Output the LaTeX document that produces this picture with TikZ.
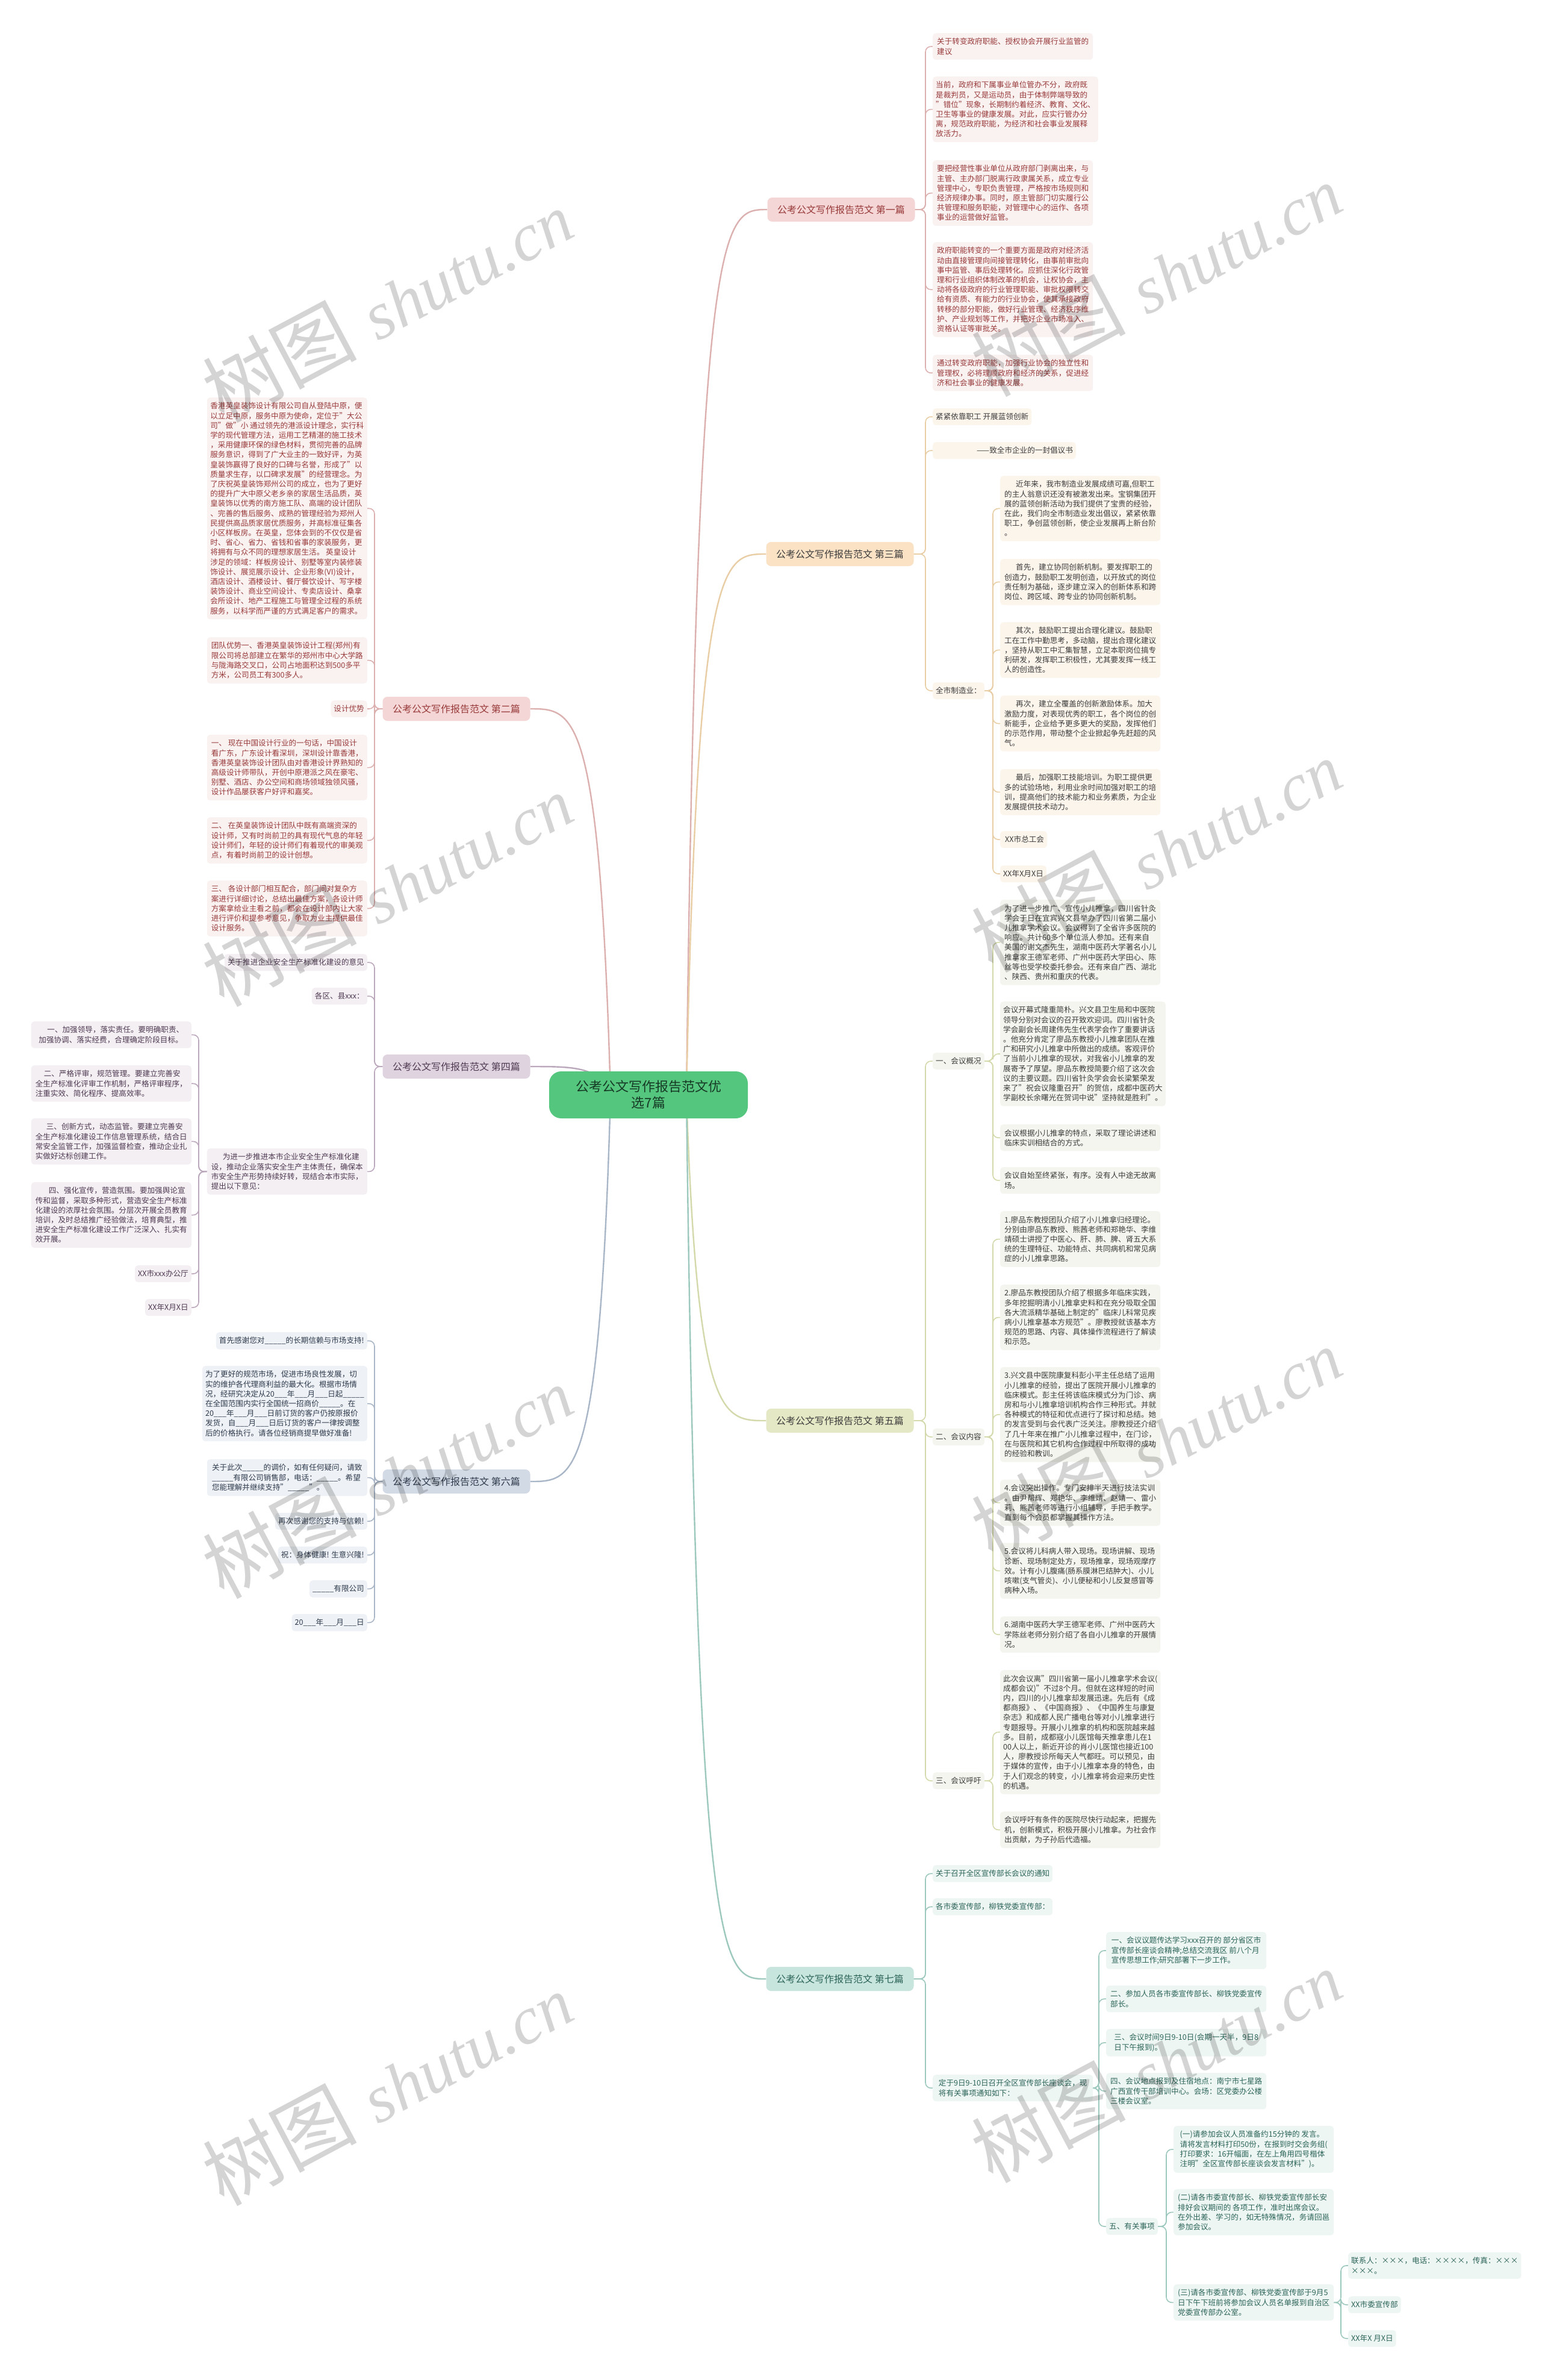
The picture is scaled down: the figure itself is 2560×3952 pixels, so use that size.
\documentclass[tikz,border=0pt]{standalone}
\usepackage{fontspec}
\setmainfont{Noto Sans CJK SC}
\newfontfamily\wmserif{Liberation Serif}
\usetikzlibrary{backgrounds,calc}
\definecolor{cgreen}{HTML}{55C67E}
\definecolor{ctxt}{HTML}{163A25}
\definecolor{pkf}{HTML}{F5D6D6}\definecolor{pkb}{HTML}{FAF1F1}\definecolor{pkt}{HTML}{983A3A}\definecolor{pkl}{HTML}{DDB0B0}
\definecolor{orf}{HTML}{FBE2C5}\definecolor{orb}{HTML}{FCF5EC}\definecolor{ort}{HTML}{3C3C3C}\definecolor{orl}{HTML}{E9CDA5}
\definecolor{olf}{HTML}{E5E8C5}\definecolor{olb}{HTML}{F4F5EE}\definecolor{olt}{HTML}{3C3C3C}\definecolor{oll}{HTML}{D3D9AA}
\definecolor{tlf}{HTML}{C7E5DD}\definecolor{tlb}{HTML}{EDF6F3}\definecolor{tlt}{HTML}{2C6458}\definecolor{tll}{HTML}{9CC8BD}
\definecolor{puf}{HTML}{E0D3E0}\definecolor{pub}{HTML}{F3EFF3}\definecolor{put}{HTML}{4F3A52}\definecolor{pul}{HTML}{BBA8BC}
\definecolor{blf}{HTML}{D2DAE5}\definecolor{blb}{HTML}{EEF1F5}\definecolor{blt}{HTML}{2F3B4D}\definecolor{bll}{HTML}{A9B6C7}
\newcommand\bt{\fontsize{12.6}{16.2}\selectfont}
\newcommand\myblank{\_\_\_\_\_}
\newcommand\myb{\_\_\_}
\newcommand\linkR[3]{\foreach \c in {#3}{\draw[#1] (#2.east) -| ($(\c.west)+(-12,0)$) -- (\c.west);}}
\newcommand\linkL[3]{\foreach \c in {#3}{\draw[#1] (#2.west) -| ($(\c.east)+(12,0)$) -- (\c.east);}}
\tikzset{
  bx/.style={rounded corners=5pt, inner xsep=5pt, inner ysep=8pt, font=\bt, align=left},
  wbx/.style={bx, minimum width=266pt},
  R/.style={anchor=north west},
  L/.style={anchor=north east},
  pk/.style={fill=pkb, text=pkt}, orr/.style={fill=orb, text=ort}, ol/.style={fill=olb, text=olt},
  tl/.style={fill=tlb, text=tlt}, pu/.style={fill=pub, text=put}, bl/.style={fill=blb, text=blt},
  br/.style={rounded corners=8pt, minimum width=245pt, minimum height=40pt, inner sep=0pt, font=\fontsize{16}{19}\selectfont},
  sub/.style={line width=1.6pt, rounded corners=9pt},
  wm/.style={text=black, text opacity=0.17, rotate=28, inner sep=0pt}
}
\begin{document}
\begin{tikzpicture}[x=1pt, y=-1pt]
\useasboundingbox (0,0) rectangle (2560,3952);
\begin{scope}[on background layer]
\fill[white] (0,0) rectangle (2560,3952);
\end{scope}

% center
\node[rounded corners=20pt, minimum width=330pt, minimum height=78pt, fill=cgreen, text=ctxt, font=\fontsize{22}{27}\selectfont, align=center] (root) at (1077,1818) {公考公文写作报告范文优\\选7篇};

% branches
\node[br, fill=pkf, text=pkt] (s1) at (1397,348) {公考公文写作报告范文 第一篇};
\node[br, fill=orf, text=ort] (s3) at (1395,920) {公考公文写作报告范文 第三篇};
\node[br, fill=olf, text=olt] (s5) at (1395,2359) {公考公文写作报告范文 第五篇};
\node[br, fill=tlf, text=tlt] (s7) at (1395,3286) {公考公文写作报告范文 第七篇};
\node[br, fill=pkf, text=pkt] (s2) at (758,1177) {公考公文写作报告范文 第二篇};
\node[br, fill=puf, text=put] (s4) at (758,1771) {公考公文写作报告范文 第四篇};
\node[br, fill=blf, text=blt] (s6) at (758,2460) {公考公文写作报告范文 第六篇};

% ---------- 第一篇
\node[wbx, pk, R] (b1) at (1549,55) {关于转变政府职能、授权协会开展行业监管的\\建议};
\node[wbx, pk, R] (b2) at (1549,127) {当前，政府和下属事业单位管办不分，政府既\\是裁判员，又是运动员，由于体制弊端导致的\\"错位"现象，长期制约着经济、教育、文化、\\卫生等事业的健康发展。对此，应实行管办分\\离，规范政府职能，为经济和社会事业发展释\\放活力。};
\node[wbx, pk, R] (b3) at (1549,266) {要把经营性事业单位从政府部门剥离出来，与\\主管、主办部门脱离行政隶属关系，成立专业\\管理中心，专职负责管理，严格按市场规则和\\经济规律办事。同时，原主管部门切实履行公\\共管理和服务职能，对管理中心的运作、各项\\事业的运营做好监管。};
\node[wbx, pk, R] (b4) at (1549,402) {政府职能转变的一个重要方面是政府对经济活\\动由直接管理向间接管理转化，由事前审批向\\事中监管、事后处理转化。应抓住深化行政管\\理和行业组织体制改革的机会，让权协会，主\\动将各级政府的行业管理职能、审批权限转交\\给有资质、有能力的行业协会，使其承接政府\\转移的部分职能，做好行业管理、经济秩序维\\护、产业规划等工作，并把好企业市场准入、\\资格认证等审批关。};
\node[wbx, pk, R] (b5) at (1549,589) {通过转变政府职能，加强行业协会的独立性和\\管理权，必将理顺政府和经济的关系，促进经\\济和社会事业的健康发展。};

% ---------- 第三篇
\node[bx, orr, R] (ca) at (1549,678) {紧紧依靠职工 开展蓝领创新};
\node[bx, orr, R] (cb) at (1549,734) {\hspace*{68pt}——致全市企业的一封倡议书};
\node[bx, orr, R] (cc) at (1549,1133) {全市制造业：};
\node[wbx, orr, R] (c1) at (1661,790) {\hspace*{19pt}近年来，我市制造业发展成绩可嘉,但职工\\的主人翁意识还没有被激发出来。宝钢集团开\\展的蓝领创新活动为我们提供了宝贵的经验，\\在此，我们向全市制造业发出倡议，紧紧依靠\\职工，争创蓝领创新，使企业发展再上新台阶\\。};
\node[wbx, orr, R] (c2) at (1661,928) {\hspace*{19pt}首先，建立协同创新机制。要发挥职工的\\创造力，鼓励职工发明创造，以开放式的岗位\\责任制为基础，逐步建立深入的创新体系和跨\\岗位、跨区域、跨专业的协同创新机制。};
\node[wbx, orr, R] (c3) at (1661,1033) {\hspace*{19pt}其次，鼓励职工提出合理化建议。鼓励职\\工在工作中勤思考，多动脑，提出合理化建议\\，坚持从职工中汇集智慧，立足本职岗位搞专\\利研发，发挥职工积极性，尤其要发挥一线工\\人的创造性。};
\node[wbx, orr, R] (c4) at (1661,1155) {\hspace*{19pt}再次，建立全覆盖的创新激励体系。加大\\激励力度，对表现优秀的职工，各个岗位的创\\新能手，企业给予更多更大的奖励，发挥他们\\的示范作用，带动整个企业掀起争先赶超的风\\气。};
\node[wbx, orr, R] (c5) at (1661,1277) {\hspace*{19pt}最后，加强职工技能培训。为职工提供更\\多的试验场地，利用业余时间加强对职工的培\\训，提高他们的技术能力和业务素质，为企业\\发展提供技术动力。};
\node[bx, orr, R] (c6) at (1661,1380) {\hspace*{3pt}XX市总工会};
\node[bx, orr, R] (c7) at (1661,1437) {XX年X月X日};

% ---------- 第五篇
\node[bx, ol, R] (p1) at (1549,1748) {一、会议概况};
\node[bx, ol, R] (p2) at (1549,2372) {二、会议内容};
\node[bx, ol, R] (p3) at (1549,2943) {三、会议呼吁};
\node[wbx, ol, R] (g1) at (1661,1494) {为了进一步推广、宣传小儿推拿，四川省针灸\\学会于日在宜宾兴文县举办了四川省第二届小\\儿推拿学术会议。会议得到了全省许多医院的\\响应。共计60多个单位派人参加。还有来自\\美国的谢文杰先生，湖南中医药大学著名小儿\\推拿家王德军老师、广州中医药大学田心、陈\\丝等也受学校委托参会。还有来自广西、湖北\\、陕西、贵州和重庆的代表。};
\node[wbx, ol, R] (g2) at (1661,1663) {会议开幕式隆重简朴。兴文县卫生局和中医院\\领导分别对会议的召开致欢迎词。四川省针灸\\学会副会长周建伟先生代表学会作了重要讲话\\。他充分肯定了廖品东教授小儿推拿团队在推\\广和研究小儿推拿中所做出的成绩。客观评价\\了当前小儿推拿的现状，对我省小儿推拿的发\\展寄予了厚望。廖品东教授简要介绍了这次会\\议的主要议题。四川省针灸学会会长梁繁荣发\\来了"祝会议隆重召开"的贺信，成都中医药大\\学副校长余曙光在贺词中说"坚持就是胜利"。};
\node[wbx, ol, R] (g3) at (1661,1867) {会议根据小儿推拿的特点，采取了理论讲述和\\临床实训相结合的方式。};
\node[wbx, ol, R] (g4) at (1661,1938) {会议自始至终紧张，有序。没有人中途无故离\\场。};
\node[wbx, ol, R] (h1) at (1661,2011) {1.廖品东教授团队介绍了小儿推拿归经理论。\\分别由廖品东教授、熊茜老师和郑艳华、李维\\靖硕士讲授了中医心、肝、肺、脾、肾五大系\\统的生理特征、功能特点、共同病机和常见病\\症的小儿推拿思路。};
\node[wbx, ol, R] (h2) at (1661,2133) {2.廖品东教授团队介绍了根据多年临床实践，\\多年挖掘明清小儿推拿史料和在充分吸取全国\\各大流派精华基础上制定的"临床儿科常见疾\\病小儿推拿基本方规范"。廖教授就该基本方\\规范的思路、内容、具体操作流程进行了解读\\和示范。};
\node[wbx, ol, R] (h3) at (1661,2270) {3.兴文县中医院康复科彭小平主任总结了运用\\小儿推拿的经验，提出了医院开展小儿推拿的\\临床模式。彭主任将该临床模式分为门诊、病\\房和与小儿推拿培训机构合作三种形式。并就\\各种模式的特征和优点进行了探讨和总结。她\\的发言受到与会代表广泛关注。廖教授还介绍\\了几十年来在推广小儿推拿过程中，在门诊，\\在与医院和其它机构合作过程中所取得的成功\\的经验和教训。};
\node[wbx, ol, R] (h4) at (1661,2457) {4.会议突出操作。专门安排半天进行技法实训\\。由尹帮辉、郑艳华、李维靖、赵靖一、雷小\\莉、熊茜老师等进行小组辅导，手把手教学。\\直到每个会员都掌握其操作方法。};
\node[wbx, ol, R] (h5) at (1661,2562) {5.会议将儿科病人带入现场。现场讲解、现场\\诊断、现场制定处方，现场推拿，现场观摩疗\\效。计有小儿腹痛(肠系膜淋巴结肿大)、小儿\\咳嗽(支气管炎)、小儿便秘和小儿反复感冒等\\病种入场。};
\node[wbx, ol, R] (h6) at (1661,2684) {6.湖南中医药大学王德军老师、广州中医药大\\学陈丝老师分别介绍了各自小儿推拿的开展情\\况。};
\node[wbx, ol, R] (i1) at (1661,2773) {此次会议离"四川省第一届小儿推拿学术会议(\\成都会议)"不过8个月。但就在这样短的时间\\内，四川的小儿推拿却发展迅速。先后有《成\\都商报》、《中国商报》、《中国养生与康复\\杂志》和成都人民广播电台等对小儿推拿进行\\专题报导。开展小儿推拿的机构和医院越来越\\多。目前，成都寇小儿医馆每天推拿患儿在1\\00人以上，新近开诊的肖小儿医馆也接近100\\人，廖教授诊所每天人气都旺。可以预见，由\\于媒体的宣传，由于小儿推拿本身的特色，由\\于人们观念的转变，小儿推拿将会迎来历史性\\的机遇。};
\node[wbx, ol, R] (i2) at (1661,3008) {会议呼吁有条件的医院尽快行动起来，把握先\\机，创新模式，积极开展小儿推拿。为社会作\\出贡献，为子孙后代造福。};

% ---------- 第七篇
\node[bx, tl, R] (j1) at (1549,3097) {关于召开全区宣传部长会议的通知};
\node[bx, tl, R] (j2) at (1549,3152) {各市委宣传部，柳铁党委宣传部：};
\node[wbx, tl, R] (j3) at (1549,3445) {定于9日9-10日召开全区宣传部长座谈会，现\\将有关事项通知如下：};
\node[wbx, tl, R] (k1) at (1837,3208) {一、会议议题传达学习xxx召开的 部分省区市\\宣传部长座谈会精神;总结交流我区 前八个月\\宣传思想工作;研究部署下一步工作。};
\node[wbx, tl, R] (k2) at (1837,3297) {二、参加人员各市委宣传部长、柳铁党委宣传\\部长。};
\node[wbx, tl, R] (k3) at (1837,3369) {三、会议时间9日9-10日(会期一天半，9日8\\日下午报到)。};
\node[wbx, tl, R] (k4) at (1837,3442) {四、会议地点报到及住宿地点：南宁市七星路\\广西宣传干部培训中心。会场：区党委办公楼\\三楼会议室。};
\node[bx, tl, R] (k5) at (1837,3683) {五、有关事项};
\node[wbx, tl, R] (l1) at (1949,3530) {(一)请参加会议人员准备约15分钟的 发言。\\请将发言材料打印50份，在报到时交会务组(\\打印要求：16开幅面，在左上角用四号楷体\\注明"全区宣传部长座谈会发言材料")。};
\node[wbx, tl, R] (l2) at (1949,3635) {(二)请各市委宣传部长、柳铁党委宣传部长安\\排好会议期间的 各项工作，准时出席会议。\\在外出差、学习的，如无特殊情况，务请回邕\\参加会议。};
\node[wbx, tl, R] (l3) at (1949,3793) {(三)请各市委宣传部、柳铁党委宣传部于9月5\\日下午下班前将参加会议人员名单报到自治区\\党委宣传部办公室。};
\node[wbx, tl, R] (m1) at (2239,3740) {联系人：×××，电话：××××，传真：×××\\×××。};
\node[bx, tl, R] (m2) at (2239,3813) {XX市委宣传部};
\node[bx, tl, R] (m3) at (2239,3869) {XX年X 月X日};

% ---------- 第二篇
\node[wbx, pk, L] (d1) at (610,660) {香港英皇装饰设计有限公司自从登陆中原，便\\以立足中原，服务中原为使命，定位于"大公\\司"做"小 通过领先的港派设计理念，实行科\\学的现代管理方法，运用工艺精湛的施工技术\\，采用健康环保的绿色材料，贯彻完善的品牌\\服务意识，得到了广大业主的一致好评，为英\\皇装饰赢得了良好的口碑与名誉，形成了"以\\质量求生存，以口碑求发展"的经营理念。为\\了庆祝英皇装饰郑州公司的成立，也为了更好\\的提升广大中原父老乡亲的家居生活品质，英\\皇装饰以优秀的南方施工队、高端的设计团队\\、完善的售后服务、成熟的管理经验为郑州人\\民提供高品质家居优质服务，并高标准征集各\\小区样板房。在英皇，您体会到的不仅仅是省\\时、省心、省力、省钱和省事的家装服务，更\\将拥有与众不同的理想家居生活。 英皇设计\\涉足的领域：样板房设计、别墅等室内装修装\\饰设计、展览展示设计、企业形象(VI)设计，\\酒店设计、酒楼设计、餐厅餐饮设计、写字楼\\装饰设计、商业空间设计、专卖店设计、桑拿\\会所设计、地产工程施工与管理全过程的系统\\服务，以科学而严谨的方式满足客户的需求。};
\node[wbx, pk, L] (d2) at (610,1058) {团队优势一、香港英皇装饰设计工程(郑州)有\\限公司将总部建立在繁华的郑州市中心大学路\\与陇海路交叉口，公司占地面积达到500多平\\方米，公司员工有300多人。};
\node[bx, pk, L] (d3) at (610,1163) {设计优势};
\node[wbx, pk, L] (d4) at (610,1220) {一、 现在中国设计行业的一句话，中国设计\\看广东，广东设计看深圳，深圳设计靠香港，\\香港英皇装饰设计团队由对香港设计界熟知的\\高级设计师带队，开创中原港派之风在豪宅、\\别墅、酒店、办公空间和商场领域独领风骚，\\设计作品屡获客户好评和嘉奖。};
\node[wbx, pk, L] (d5) at (610,1357) {二、 在英皇装饰设计团队中既有高端资深的\\设计师，又有时尚前卫的具有现代气息的年轻\\设计师们，年轻的设计师们有着现代的审美观\\点，有着时尚前卫的设计创想。};
\node[wbx, pk, L] (d6) at (610,1462) {三、 各设计部门相互配合，部门间对复杂方\\案进行详细讨论，总结出最佳方案，各设计师\\方案拿给业主看之前，都会在设计部内让大家\\进行评价和提参考意见，争取为业主提供最佳\\设计服务。};

% ---------- 第四篇
\node[bx, pu, L] (n1) at (610,1584) {关于推进企业安全生产标准化建设的意见};
\node[bx, pu, L] (n2) at (610,1640) {各区、县xxx：};
\node[wbx, pu, L] (n3) at (610,1907) {\hspace*{19pt}为进一步推进本市企业安全生产标准化建\\设，推动企业落实安全生产主体责任，确保本\\市安全生产形势持续好转，现结合本市实际，\\提出以下意见：};
\node[wbx, pu, L] (o1) at (318,1696) {\hspace*{14pt}一、加强领导，落实责任。要明确职责、\\加强协调、落实经费，合理确定阶段目标。};
\node[wbx, pu, L] (o2) at (318,1769) {\hspace*{14pt}二、严格评审，规范管理。要建立完善安\\全生产标准化评审工作机制，严格评审程序，\\注重实效、简化程序、提高效率。};
\node[wbx, pu, L] (o3) at (318,1857) {\hspace*{18pt}三、创新方式，动态监管。要建立完善安\\全生产标准化建设工作信息管理系统，结合日\\常安全监管工作，加强监督检查，推动企业扎\\实做好达标创建工作。};
\node[wbx, pu, L] (o4) at (318,1963) {\hspace*{22pt}四、强化宣传，营造氛围。要加强舆论宣\\传和监督，采取多种形式，营造安全生产标准\\化建设的浓厚社会氛围。分层次开展全员教育\\培训，及时总结推广经验做法，培育典型，推\\进安全生产标准化建设工作广泛深入、扎实有\\效开展。};
\node[bx, pu, L] (o5) at (318,2101) {XX市xxx办公厅};
\node[bx, pu, L] (o6) at (318,2157) {XX年X月X日};

% ---------- 第六篇
\node[bx, bl, L] (e1) at (610,2212) {首先感谢您对\myblank 的长期信赖与市场支持!};
\node[wbx, bl, L] (e2) at (610,2268) {为了更好的规范市场，促进市场良性发展，切\\实的维护各代理商利益的最大化。根据市场情\\况，经研究决定从20\myb 年\myb 月\myb 日起\myblank\\在全国范围内实行全国统一招商价\myblank 。在\\20\myb 年\myb 月\myb 日前订货的客户仍按原报价\\发货，自\myb 月\myb 日后订货的客户一律按调整\\后的价格执行。请各位经销商提早做好准备!};
\node[wbx, bl, L] (e3) at (610,2423) {关于此次\myblank 的调价，如有任何疑问，请致\\\myblank 有限公司销售部，电话：\myblank 。希望\\您能理解并继续支持"\myblank "。};
\node[bx, bl, L] (e4) at (610,2512) {再次感谢您的支持与信赖!};
\node[bx, bl, L] (e5) at (610,2568) {祝：身体健康! 生意兴隆!};
\node[bx, bl, L] (e6) at (610,2624) {\myblank 有限公司};
\node[bx, bl, L] (e7) at (610,2680) {20\myb 年\myb 月\myb 日};

% ---------- connectors
\begin{scope}[on background layer]
\draw[pkl, line width=2.4pt] (1140,1818) .. controls (1158,348) and (1200,348) .. (s1.west);
\draw[orl, line width=2.4pt] (1140,1818) .. controls (1158,920) and (1200,920) .. (s3.west);
\draw[oll, line width=2.4pt] (1140,1818) .. controls (1158,2359) and (1200,2359) .. (s5.west);
\draw[tll, line width=2.4pt] (1140,1818) .. controls (1158,3286) and (1200,3286) .. (s7.west);
\draw[pkl, line width=2.4pt] (1014,1818) .. controls (996,1177) and (954,1177) .. (s2.east);
\draw[pul, line width=2.4pt] (1014,1818) .. controls (996,1771) and (954,1771) .. (s4.east);
\draw[bll, line width=2.4pt] (1014,1818) .. controls (996,2460) and (954,2460) .. (s6.east);

\linkR{sub, pkl}{s1}{b1,b2,b3,b4,b5}
\linkR{sub, orl}{s3}{ca,cb,cc}
\linkR{sub, orl}{cc}{c1,c2,c3,c4,c5,c6,c7}
\linkR{sub, oll}{s5}{p1,p2,p3}
\linkR{sub, oll}{p1}{g1,g2,g3,g4}
\linkR{sub, oll}{p2}{h1,h2,h3,h4,h5,h6}
\linkR{sub, oll}{p3}{i1,i2}
\linkR{sub, tll}{s7}{j1,j2,j3}
\linkR{sub, tll}{j3}{k1,k2,k3,k4,k5}
\linkR{sub, tll}{k5}{l1,l2,l3}
\linkR{sub, tll}{l3}{m1,m2,m3}
\linkL{sub, pkl}{s2}{d1,d2,d3,d4,d5,d6}
\linkL{sub, pul}{s4}{n1,n2,n3}
\linkL{sub, pul}{n3}{o1,o2,o3,o4,o5,o6}
\linkL{sub, bll}{s6}{e1,e2,e3,e4,e5,e6,e7}
\end{scope}

% ---------- watermarks
\foreach \wx/\wy [count=\i] in {643/504,1920/461,643/1474,1920/1417,643/2457,1920/2394,643/3465,1920/3427}{
  \node[wm] (wm\i) at (\wx,\wy) {{\fontsize{128}{128}\selectfont 树图}\hspace{34pt}{\fontsize{112}{112}\selectfont\wmserif\itshape shutu.cn}};
}
\end{tikzpicture}
\end{document}
